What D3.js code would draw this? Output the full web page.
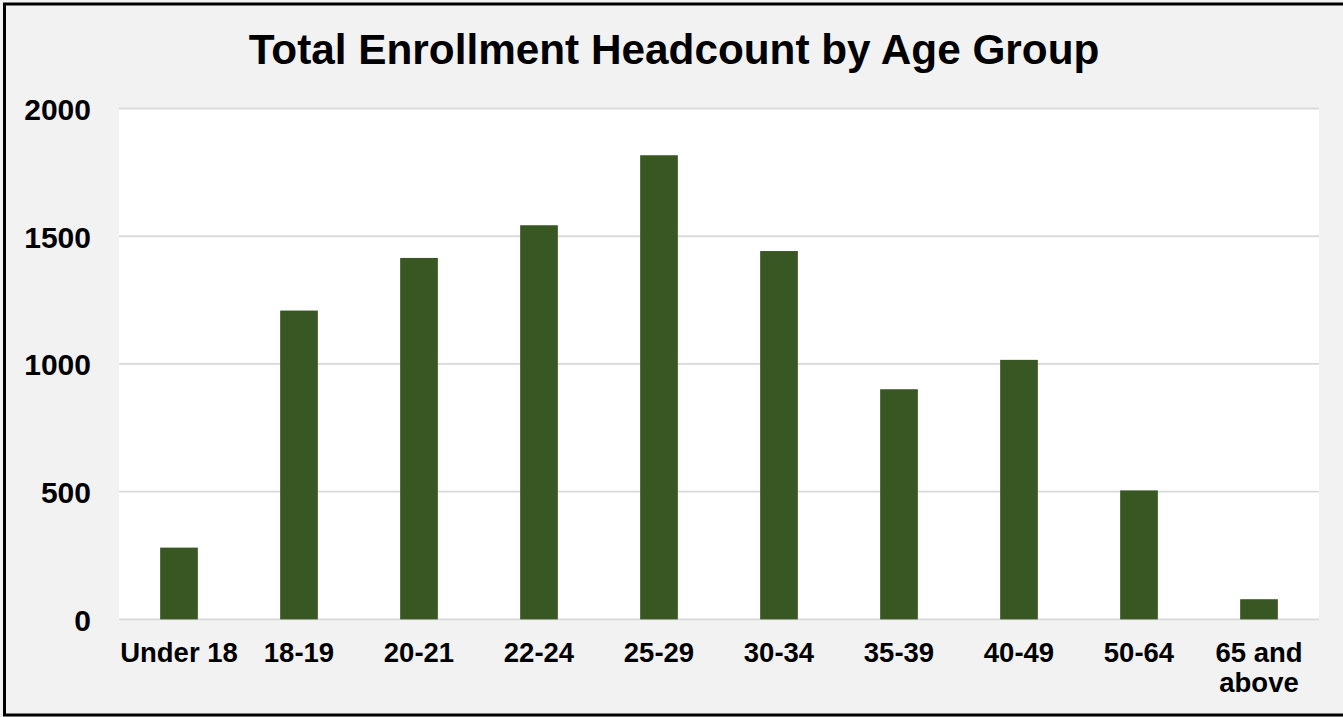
<!DOCTYPE html>
<html>
<head>
<meta charset="utf-8">
<script src="https://cdn.jsdelivr.net/npm/d3@7"></script>
<style>
  html, body { margin: 0; padding: 0; background: #f2f2f2; overflow: hidden; }
  svg { display: block; }
  text { font-family: "Liberation Sans", Arial, sans-serif; font-weight: bold; fill: #000; }
</style>
</head>
<body>
<svg id="chart" width="1343" height="717"></svg>
<script>
const categories = ["Under 18", "18-19", "20-21", "22-24", "25-29", "30-34", "35-39", "40-49", "50-64", "65 and above"];
const headcount = [281, 1209, 1415, 1543, 1817, 1442, 901, 1016, 505, 79];
const yTicks = [0, 500, 1000, 1500, 2000];
const title = "Total Enrollment Headcount by Age Group";

const W = 1343, H = 717;
const plot = { left: 119, right: 1319, top: 108.5, bottom: 619.4 };

const svg = d3.select("#chart");

svg.append("rect").attr("x", 0).attr("y", 0).attr("width", W).attr("height", H).attr("fill", "#f2f2f2");

// plot area
svg.append("rect")
  .attr("x", plot.left).attr("y", plot.top)
  .attr("width", plot.right - plot.left).attr("height", plot.bottom - plot.top)
  .attr("fill", "#ffffff");

const x = d3.scaleBand().domain(categories)
  .range([plot.left, plot.right])
  .paddingInner(0.686).paddingOuter(0.343);
const y = d3.scaleLinear().domain([0, 2000]).range([plot.bottom, plot.top]);

// gridlines
svg.append("g").selectAll("line").data(yTicks).join("line")
  .attr("x1", plot.left).attr("x2", plot.right)
  .attr("y1", d => y(d)).attr("y2", d => y(d))
  .attr("stroke", "#d9d9d9").attr("stroke-width", 1.8);

// bars
svg.append("g").selectAll("rect").data(categories).join("rect")
  .attr("x", d => x(d))
  .attr("y", (d, i) => y(headcount[i]))
  .attr("width", x.bandwidth())
  .attr("height", (d, i) => y(0) - y(headcount[i]))
  .attr("fill", "#385723");

// y axis labels
const yAxis = d3.axisLeft(y).tickValues(yTicks).tickSize(0).tickPadding(0).tickFormat(d3.format("d"));
const gy = svg.append("g").attr("transform", "translate(91,0)").call(yAxis);
gy.select(".domain").remove();
gy.selectAll("text")
  .attr("font-size", 30).attr("font-family", "Liberation Sans, Arial, sans-serif")
  .attr("font-weight", "bold").attr("fill", "#000").attr("dy", "0.36em");

// x axis labels
const xAxis = d3.axisBottom(x).tickSize(0).tickPadding(0).tickFormat("");
const gx = svg.append("g").attr("transform", `translate(0,${plot.bottom})`).call(xAxis);
gx.select(".domain").remove();
gx.selectAll(".tick").each(function(d) {
  const t = d3.select(this).append("text")
    .attr("text-anchor", "middle")
    .attr("font-size", 27.5)
    .attr("y", 42.5);
  const lines = d === "65 and above" ? ["65 and", "above"] : [d];
  lines.forEach((ln, i) => {
    t.append("tspan").attr("x", 0).attr("dy", i === 0 ? 0 : 30).text(ln);
  });
});

// title
svg.append("text")
  .attr("x", 674).attr("y", 64.3)
  .attr("text-anchor", "middle")
  .attr("font-size", 42.3)
  .text(title);

// outer border (right edge off-canvas)
svg.append("rect")
  .attr("x", 4.5).attr("y", 4).attr("width", W + 10).attr("height", 711)
  .attr("fill", "none").attr("stroke", "#000").attr("stroke-width", 3);
</script>
</body>
</html>
